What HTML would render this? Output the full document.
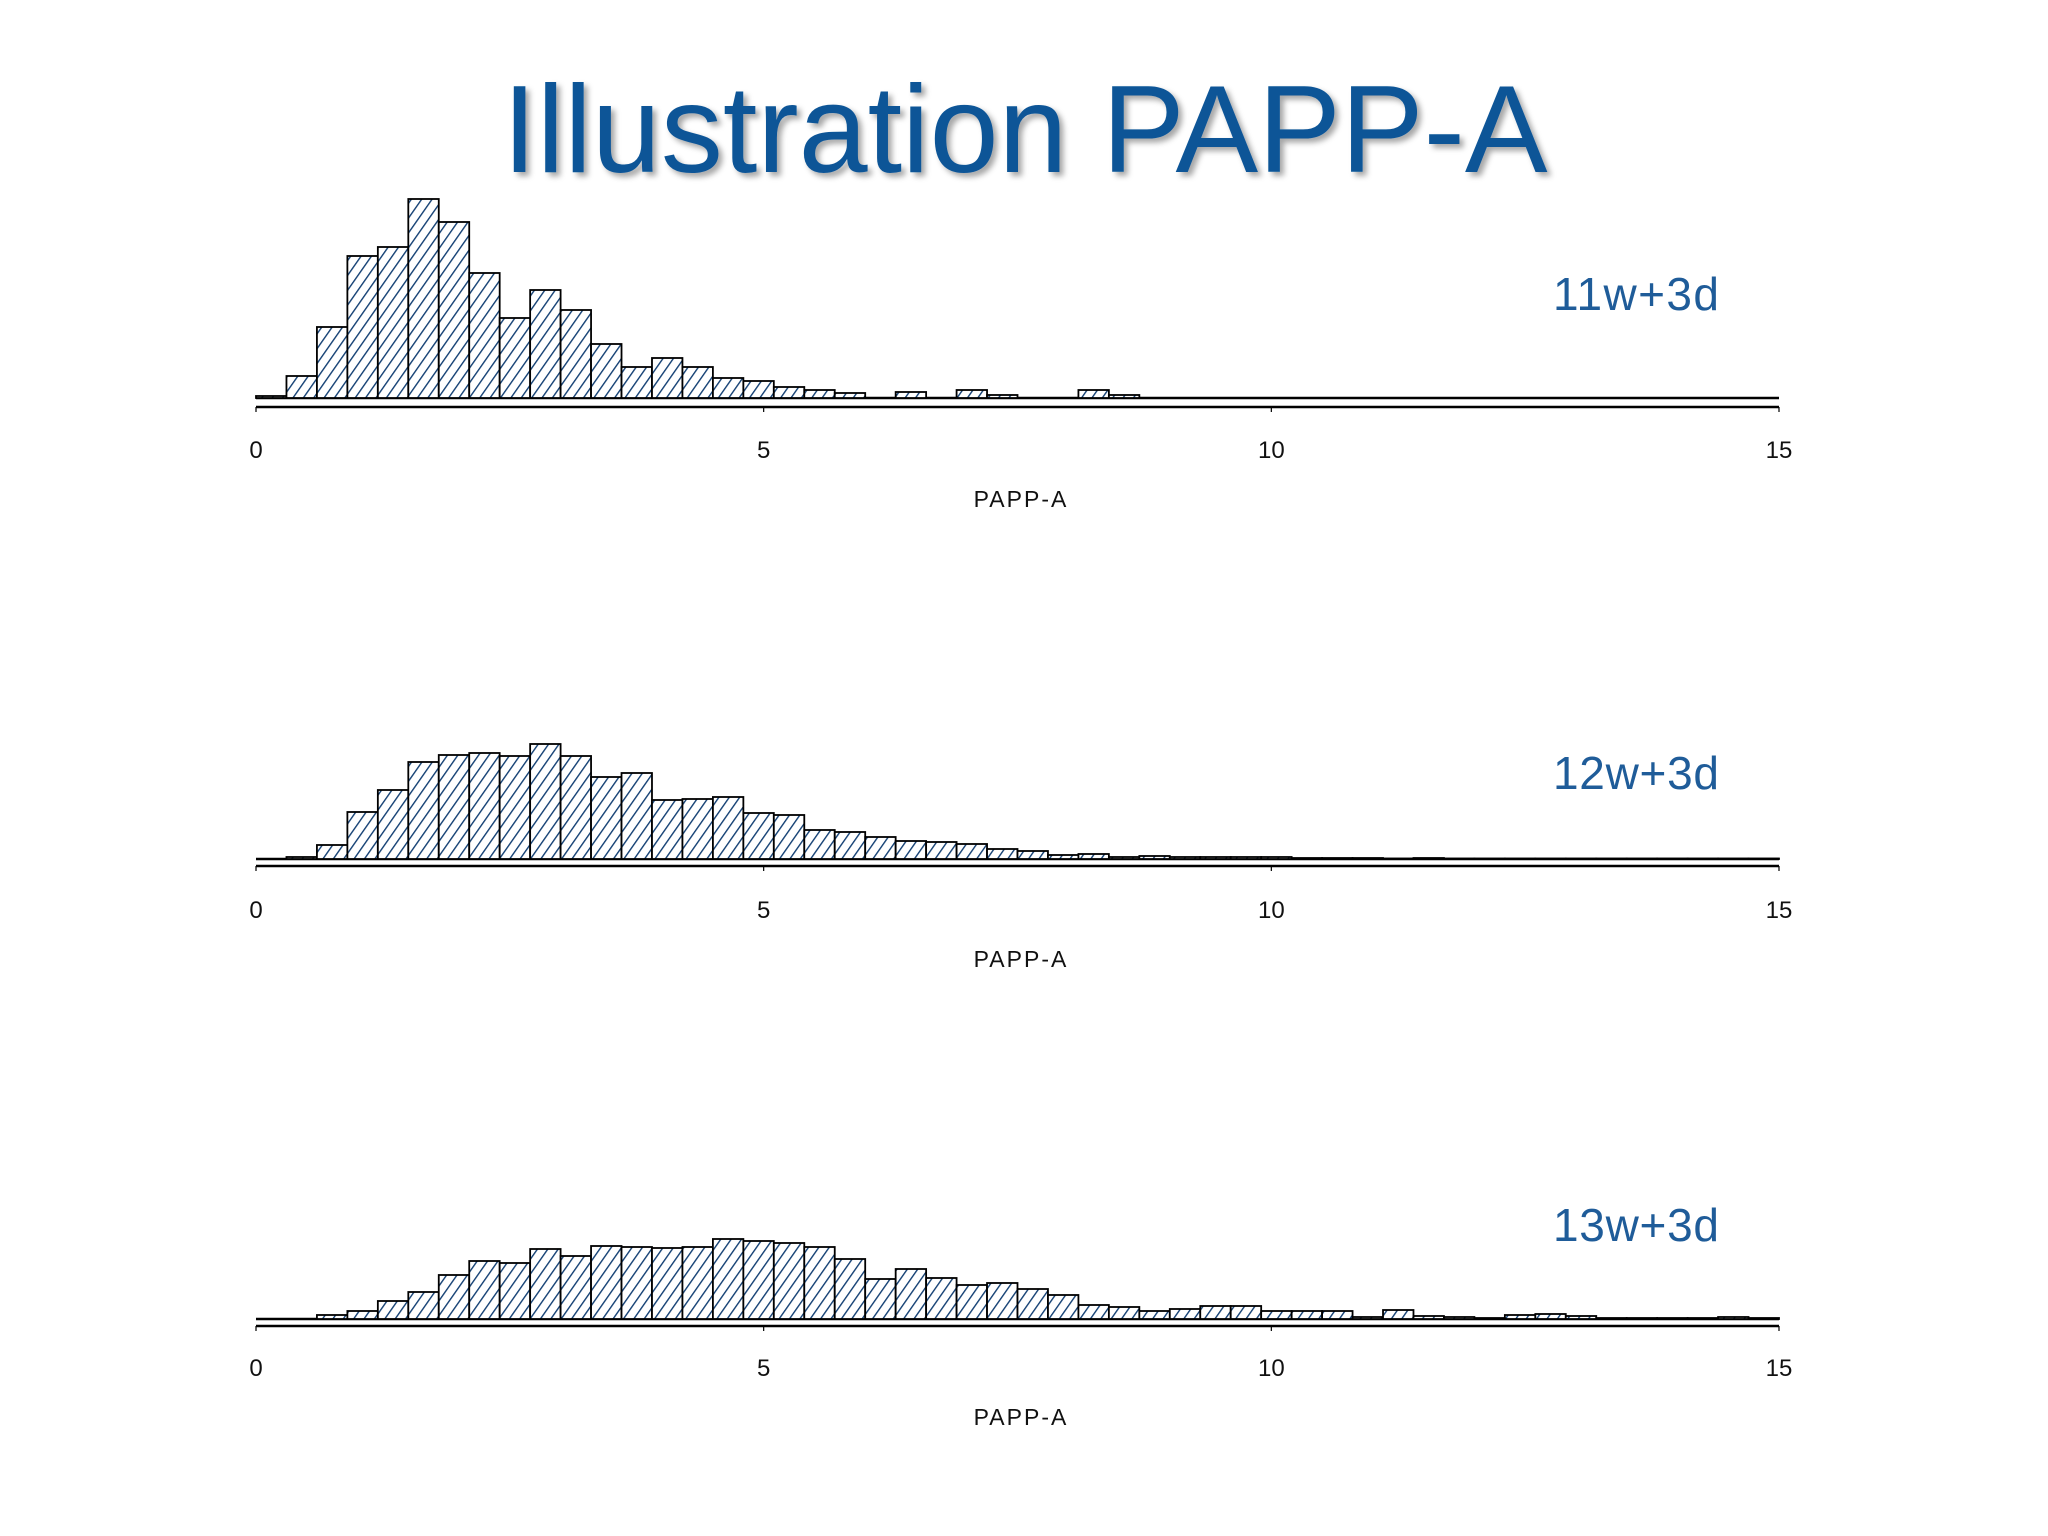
<!DOCTYPE html>
<html><head><meta charset="utf-8"><style>
html,body{margin:0;padding:0;background:#fff;}
svg{display:block;}
text{font-family:"Liberation Sans",sans-serif;}
</style></head><body>
<svg id="chart" width="2048" height="1536" viewBox="0 0 2048 1536">
<defs>
<pattern id="hatch" patternUnits="userSpaceOnUse" width="8.5" height="9" patternTransform="rotate(35)">
<rect width="9" height="9" fill="#fff"/>
<line x1="0" y1="0" x2="0" y2="9" stroke="#123f73" stroke-width="2.8"/>
</pattern>
<filter id="shadow" x="-5%" y="-5%" width="110%" height="120%">
<feDropShadow dx="4" dy="4" stdDeviation="3" flood-color="#000" flood-opacity="0.35"/>
</filter>
</defs>
<text x="1025" y="172" text-anchor="middle" font-size="124" fill="#0d5597" filter="url(#shadow)">Illustration PAPP-A</text>
</svg>
<script>
const xTicks = [0, 5, 10, 15];
const binWidth = 0.3;
const labels = ["11w+3d", "12w+3d", "13w+3d"];
const counts11 = [2,22,71,142,151,199,176,125,80,108,88,54,31,40,31,20,17,11,8,5,0,6,0,8,3,0,0,8,3,0,0,0,0,0,0,0,0,0,0,0,0,0,0,0,0,0,0,0,0,0];
const counts12 = [0,2,14,47,69,97,104,106,103,115,103,82,86,59,60,62,46,44,29,27,22,18,17,15,10,8,4,5,2,3,2,2,2,2,1,1,1,0.5,1,0.5,0.5,0.5,0.5,0.5,0.5,0.5,0.5,0.5,0.5,0.5];
const counts13 = [0,0,4,8,18,27,44,58,56,70,63,73,72,71,72,80,78,76,72,60,40,50,41,34,36,30,24,14,12,8,10,13,13,8,8,8,2,9,3,2,1,4,5,3,1,1,1,1,2,1];

const svg = document.getElementById('chart');
const NS = 'http://www.w3.org/2000/svg';
const x0 = 256, x1 = 1779;
function xScale(v){ return x0 + (v - 0) / 15 * (x1 - x0); }
function mk(tag, attrs){ const e = document.createElementNS(NS, tag); for (const k in attrs) e.setAttribute(k, attrs[k]); return e; }

const panels = [
  {data: counts11, base: 398, axis: 407, tickY: 458, titleY: 507, labY: 310},
  {data: counts12, base: 859, axis: 866, tickY: 918, titleY: 967, labY: 789},
  {data: counts13, base: 1319, axis: 1326, tickY: 1376, titleY: 1425, labY: 1241}
];
panels.forEach((p, pi) => {
  const g = mk('g', {});
  
  
  svg.appendChild(g);
  const bl = mk('line', {x1: x0, x2: x1, y1: p.base, y2: p.base, stroke: '#000', 'stroke-width': 2.5});
  
  
  g.appendChild(bl);
  p.data.forEach((c, i) => {
    if (c <= 0) return;
    const xa = xScale(i * binWidth), xb = xScale((i + 1) * binWidth);
    const r = mk('rect', {x: xa, y: p.base - c, width: xb - xa, height: c, fill: 'url(#hatch)', stroke: '#000', 'stroke-width': 1.8});
    
    
    g.appendChild(r);
  });
  const ax = mk('line', {x1: x0, x2: x1, y1: p.axis, y2: p.axis, stroke: '#000', 'stroke-width': 2.5});
  
  
  g.appendChild(ax);
  xTicks.forEach(t => {
    const tl = mk('line', {x1: xScale(t), x2: xScale(t), y1: p.axis, y2: p.axis + 5, stroke: '#000', 'stroke-width': 1.2});
    
    
    g.appendChild(tl);
    const tx = mk('text', {x: xScale(t), y: p.tickY, 'text-anchor': 'middle', 'font-size': 24, fill: '#111'});
    tx.textContent = t;
    
    
    g.appendChild(tx);
  });
  const at = mk('text', {x: 1021, y: p.titleY, 'text-anchor': 'middle', 'font-size': 23, 'letter-spacing': 2, fill: '#111'});
  at.textContent = 'PAPP-A';
  
  
  g.appendChild(at);
  const lab = mk('text', {x: 1553, y: p.labY, 'font-size': 46, fill: '#1f5c99', textLength: 166});
  lab.textContent = labels[pi];
  
  
  g.appendChild(lab);
});
</script>
</body></html>
